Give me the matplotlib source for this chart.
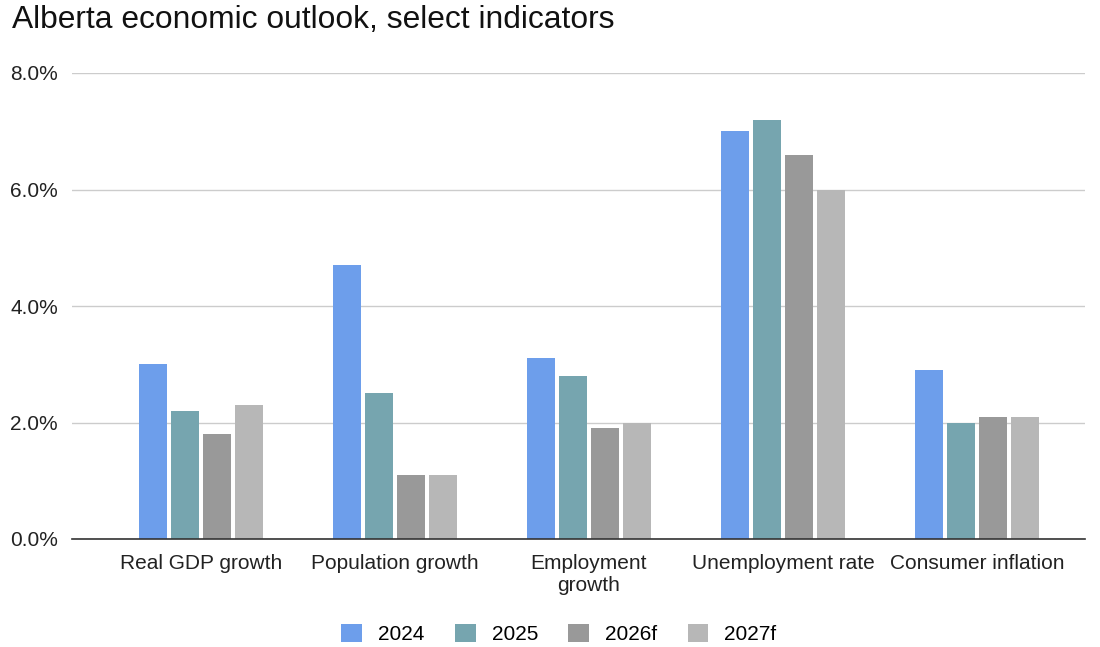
import matplotlib
matplotlib.use("Agg")
import matplotlib.pyplot as plt
import numpy as np
from matplotlib.ticker import FuncFormatter, MultipleLocator
from matplotlib.patches import Patch

categories = ["Real GDP growth", "Population growth", "Employment\ngrowth",
              "Unemployment rate", "Consumer inflation"]
series_names = ["2024", "2025", "2026f", "2027f"]
v2024 = [3.0, 4.7, 3.1, 7.0, 2.9]
v2025 = [2.2, 2.5, 2.8, 7.2, 2.0]
v2026f = [1.8, 1.1, 1.9, 6.6, 2.1]
v2027f = [2.3, 1.1, 2.0, 6.0, 2.1]
series = [v2024, v2025, v2026f, v2027f]
colors = ["#6d9eeb", "#76a5af", "#999999", "#b7b7b7"]

plt.rcParams['font.family'] = ['Liberation Sans', 'DejaVu Sans']

fig = plt.figure(figsize=(11, 6.47), dpi=100)
ax = fig.add_axes([72/1100, 1-539/647, (1085-72)/1100, (539-73)/647])

x = np.arange(len(categories))
step = 0.165
width = 0.145
for i, (vals, c) in enumerate(zip(series, colors)):
    ax.bar(x + (i - 1.5) * step, vals, width=width, color=c, zorder=3)

ax.set_xlim(-0.665, 4.557)
ax.set_ylim(0, 8)
ax.yaxis.set_major_locator(MultipleLocator(2))
ax.yaxis.set_major_formatter(FuncFormatter(lambda v, p: f"{v:.1f}%"))
ax.grid(axis='y', color='#cccccc', linewidth=1, zorder=0)
for s in ['top', 'right', 'left']:
    ax.spines[s].set_visible(False)
ax.spines['bottom'].set_color('#333333')
ax.spines['bottom'].set_linewidth(1.2)
ax.spines['bottom'].set_zorder(4)
ax.tick_params(axis='both', length=0, labelsize=15, colors='#222222')
ax.tick_params(axis='y', pad=10)
ax.tick_params(axis='x', pad=11)
ax.set_xticks(x)
ax.set_xticklabels(categories, linespacing=1.15)

fig.text(12/1100, 1-28/647, "Alberta economic outlook, select indicators",
         fontsize=22.9, color='#111111', ha='left', va='baseline')

handles = [Patch(facecolor=c, edgecolor='none') for c in colors]
fig.legend(handles, series_names, loc='center', bbox_to_anchor=(559/1100, 1-634/647),
           ncol=4, frameon=False, fontsize=15, handlelength=1.0, handleheight=1.0,
           columnspacing=1.45, handletextpad=0.77)

fig.savefig("out.png", dpi=100)
